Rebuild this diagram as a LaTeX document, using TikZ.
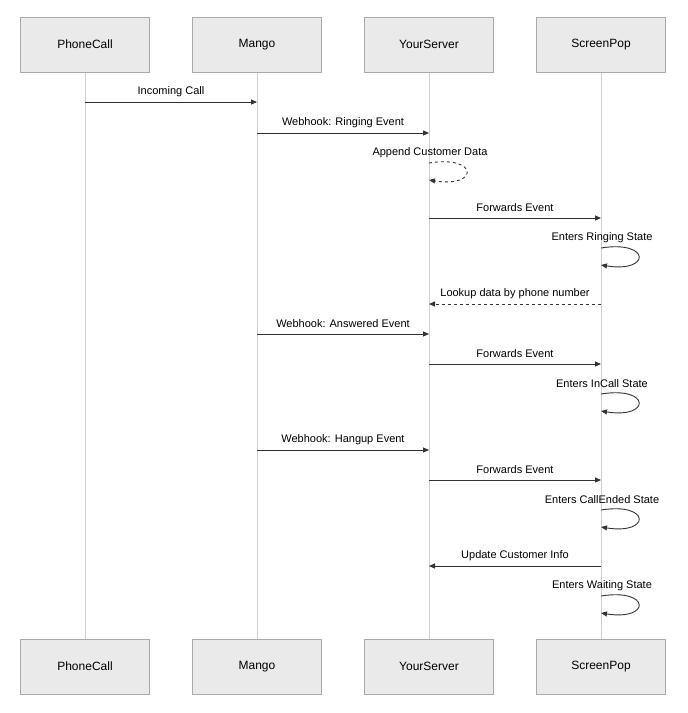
\documentclass[tikz,border=0pt]{standalone}
\usepackage{fontspec}
\setmainfont{Liberation Sans}
\usetikzlibrary{arrows.meta}
\definecolor{boxfill}{HTML}{EAEAEA}
\definecolor{boxline}{HTML}{AAAAAA}
\definecolor{lifeline}{HTML}{D0D0D0}
\definecolor{msg}{HTML}{333333}
\begin{document}
\begin{tikzpicture}[x=1pt,y=-1pt,
  actor/.style={draw=boxline,fill=boxfill,minimum width=129pt,minimum height=55pt,font=\fontsize{12}{14}\selectfont,inner sep=0pt},
  life/.style={draw=lifeline,line width=0.8pt},
  msgline/.style={draw=msg,line width=0.9pt,-{Triangle[length=6pt,width=5pt]}},
  lbl/.style={font=\fontsize{11}{13}\selectfont,text=black,inner sep=1pt}]
\useasboundingbox (0,0) rectangle (688,713);
\foreach \n/\x/\t in {p/85/PhoneCall,m/257/Mango,y/429/YourServer,s/601/ScreenPop}{
  \draw[life] (\x,72) -- (\x,639);
  \node[actor] (\n t) at (\x,44.5) {\t};
  \node[actor] (\n b) at (\x,666.5) {\t};
}
% messages
\foreach \y/\a/\b/\t/\st in {
 102/85/257/Incoming Call/solid,
 133/257/429/Webhook: Ringing Event/solid,
 218/429/601/Forwards Event/solid,
 304/601/429/Lookup data by phone number/dashed,
 334/257/429/Webhook: Answered Event/solid,
 364/429/601/Forwards Event/solid,
 450/257/429/Webhook: Hangup Event/solid,
 480/429/601/Forwards Event/solid,
 566/601/429/Update Customer Info/solid}{
  \coordinate (a\y) at (\a,\y);
  \coordinate (b\y) at (\b,\y);
  \draw[msgline,\st] (a\y) -- (b\y);
  \node[lbl] at ({(\a+\b)/2},\y-10) {\t};
}
% self loops
\foreach \x/\y/\t/\st in {
 429/163/Append Customer Data/dashed,
 601/248/Enters Ringing State/solid,
 601/394/Enters InCall State/solid,
 601/510/Enters CallEnded State/solid,
 601/596/Enters Waiting State/solid}{
  \coordinate (l\y) at (\x,\y);
  \coordinate (e\y) at (\x,\y+17);
  \draw[msgline,\st] (l\y) .. controls (\x+50,\y-8) and (\x+50,\y+25) .. (e\y);
  \node[lbl] at (\x+1,\y-10) {\t};
}
\end{tikzpicture}
\end{document}
